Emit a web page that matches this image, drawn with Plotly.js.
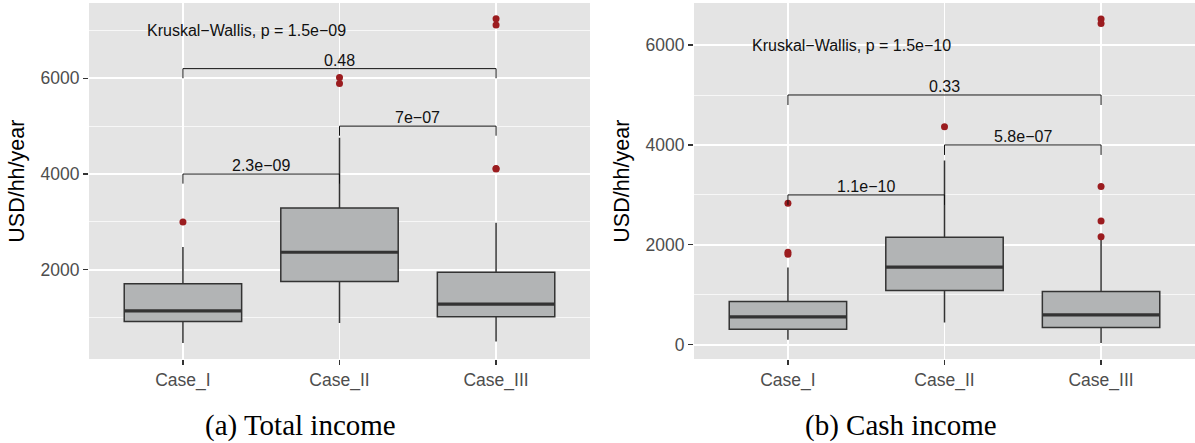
<!DOCTYPE html>
<html>
<head>
<meta charset="utf-8">
<script src="https://cdn.plot.ly/plotly-3.0.1.min.js"></script>
<style>html,body{margin:0;padding:0;background:#fff;}#chart{width:1195px;height:443px;}</style>
</head>
<body>
<div id="chart"></div>
<script>
// ---------- data ----------
const categories = ['Case_I', 'Case_II', 'Case_III'];

// (a) Total income
const totQ1     = [923, 1757, 1021];
const totMedian = [1146, 2368, 1285];
const totQ3     = [1708, 3292, 1951];
const totLow    = [472, 889, 507];
const totHigh   = [2479, 4757, 2986];
const totOutCat = ['Case_I', 'Case_II', 'Case_II', 'Case_III', 'Case_III', 'Case_III', 'Case_III'];
const totOutVal = [3000, 6014, 5889, 4104, 4118, 7243, 7111];
const totPairA  = ['Case_I', 'Case_II', 'Case_I'];
const totPairB  = ['Case_II', 'Case_III', 'Case_III'];
const totPVal   = ['2.3e\u221209', '7e\u221207', '0.48'];
const totPY     = [4000, 5000, 6200];
const totKW     = 'Kruskal\u2212Wallis, p = 1.5e\u221209';
const totKWY    = 7000;

// (b) Cash income
const cashQ1     = [313, 1087, 347];
const cashMedian = [560, 1553, 600];
const cashQ3     = [867, 2153, 1067];
const cashLow    = [100, 447, 33];
const cashHigh   = [1547, 3687, 2100];
const cashOutCat = ['Case_I', 'Case_I', 'Case_I', 'Case_II', 'Case_III', 'Case_III', 'Case_III', 'Case_III', 'Case_III'];
const cashOutVal = [2833, 1853, 1813, 4367, 2160, 2480, 3167, 6520, 6433];
const cashPairA  = ['Case_I', 'Case_II', 'Case_I'];
const cashPairB  = ['Case_II', 'Case_III', 'Case_III'];
const cashPVal   = ['1.1e\u221210', '5.8e\u221207', '0.33'];
const cashPY     = [3000, 4000, 5000];
const cashKW     = 'Kruskal\u2212Wallis, p = 1.5e\u221210';
const cashKWY    = 6000;

const yTitle = 'USD/hh/year';
const captions = ['(a) Total income', '(b) Cash income'];

// ---------- build ----------
const pos = c => categories.indexOf(c) + 1;
const xs = categories.map(pos);
const BOXW = 0.75, TICKDROP = 200;
const FONT = 'Liberation Sans, Arial, sans-serif';

const traces = [];
const shapes = [];
const annotations = [];

function panel(xa, ya, q1, med, q3, lo, hi, outCat, outVal, pa, pb, pv, py, kw, kwy) {
  const xref = xa, yref = ya;
  traces.push({
    type: 'box', xaxis: xa, yaxis: ya, x: xs, q1: q1, median: med, q3: q3,
    lowerfence: lo, upperfence: hi, width: BOXW, whiskerwidth: 0,
    fillcolor: '#b2b4b5', line: {color: '#333333', width: 1.5},
    boxpoints: false, showlegend: false, hoverinfo: 'skip'
  });
  traces.push({
    type: 'scatter', mode: 'markers', xaxis: xa, yaxis: ya,
    x: outCat.map(pos), y: outVal,
    marker: {color: '#9b1c1f', size: 7}, showlegend: false, hoverinfo: 'skip'
  });
  med.forEach((m, i) => {
    shapes.push({type: 'line', xref: xref, yref: yref, x0: xs[i] - BOXW / 2, x1: xs[i] + BOXW / 2,
      y0: m, y1: m, line: {color: '#333333', width: 3.2}});
  });
  pa.forEach((a, i) => {
    const x1 = pos(a), x2 = pos(pb[i]), y = py[i];
    shapes.push({type: 'path', xref: xref, yref: yref,
      path: `M ${x1},${y - TICKDROP} L ${x1},${y} L ${x2},${y} L ${x2},${y - TICKDROP}`,
      line: {color: '#111111', width: 1}});
    annotations.push({xref: xref, yref: yref, x: (x1 + x2) / 2, y: y, text: pv[i],
      showarrow: false, yanchor: 'bottom', yshift: -2, font: {family: FONT, size: 16, color: '#111'}});
  });
  annotations.push({xref: xref, yref: yref, x: 0.757, y: kwy, text: kw, showarrow: false,
    xanchor: 'left', yanchor: 'middle', font: {family: FONT, size: 16, color: '#111'}});
}

panel('x', 'y', totQ1, totMedian, totQ3, totLow, totHigh, totOutCat, totOutVal, totPairA, totPairB, totPVal, totPY, totKW, totKWY);
panel('x2', 'y2', cashQ1, cashMedian, cashQ3, cashLow, cashHigh, cashOutCat, cashOutVal, cashPairA, cashPairB, cashPVal, cashPY, cashKW, cashKWY);

// axis titles and captions
[16.7, 621.7].forEach(px => {
  annotations.push({xref: 'paper', yref: 'paper', x: px / 1195, y: (443 - 181) / 443, text: yTitle,
    textangle: -90, showarrow: false, xanchor: 'center', yanchor: 'middle',
    font: {family: FONT, size: 21.5, color: '#000'}});
});
[[300, captions[0]], [901, captions[1]]].forEach(([px, t]) => {
  annotations.push({xref: 'paper', yref: 'paper', x: px / 1195, y: 0, text: t,
    showarrow: false, xanchor: 'center', yanchor: 'bottom', borderpad: 0,
    font: {family: 'Liberation Serif, Times New Roman, serif', size: 29, color: '#000'}});
});

const xaxisBase = {
  range: [0.4, 3.6], tickmode: 'array', tickvals: xs, ticktext: categories,
  showgrid: true, gridcolor: '#ffffff', gridwidth: 1.5, zeroline: false, showline: false,
  ticks: 'outside', ticklen: 5, tickwidth: 1.2, tickcolor: '#333333',
  tickfont: {family: FONT, size: 17.5, color: '#4d4d4d'}
};
const yaxisBase = {
  tick0: 0, dtick: 2000, showgrid: true, gridcolor: '#ffffff', gridwidth: 1.5,
  zeroline: false, showline: false, ticks: 'outside', ticklen: 5, tickwidth: 1.2, tickcolor: '#333333',
  tickfont: {family: FONT, size: 17.5, color: '#4d4d4d'},
  minor: {dtick: 1000, tick0: 0, showgrid: true, gridcolor: '#ffffff', gridwidth: 0.7, ticks: ''}
};
const ydom = [(443 - 359) / 443, (443 - 3) / 443];

const layout = {
  width: 1195, height: 443, margin: {l: 0, r: 0, t: 0, b: 0},
  paper_bgcolor: '#ffffff', plot_bgcolor: '#e4e4e4',
  showlegend: false,
  xaxis: Object.assign({}, xaxisBase, {domain: [89 / 1195, 590 / 1195], anchor: 'y'}),
  yaxis: Object.assign({}, yaxisBase, {domain: ydom, range: [140, 7570], anchor: 'x'}),
  xaxis2: Object.assign({}, xaxisBase, {domain: [694 / 1195, 1], anchor: 'y2'}),
  yaxis2: Object.assign({}, yaxisBase, {domain: ydom, range: [-285, 6842], anchor: 'x2'}),
  shapes: shapes, annotations: annotations
};

Plotly.newPlot('chart', traces, layout, {staticPlot: true, displayModeBar: false});
</script>
</body>
</html>
